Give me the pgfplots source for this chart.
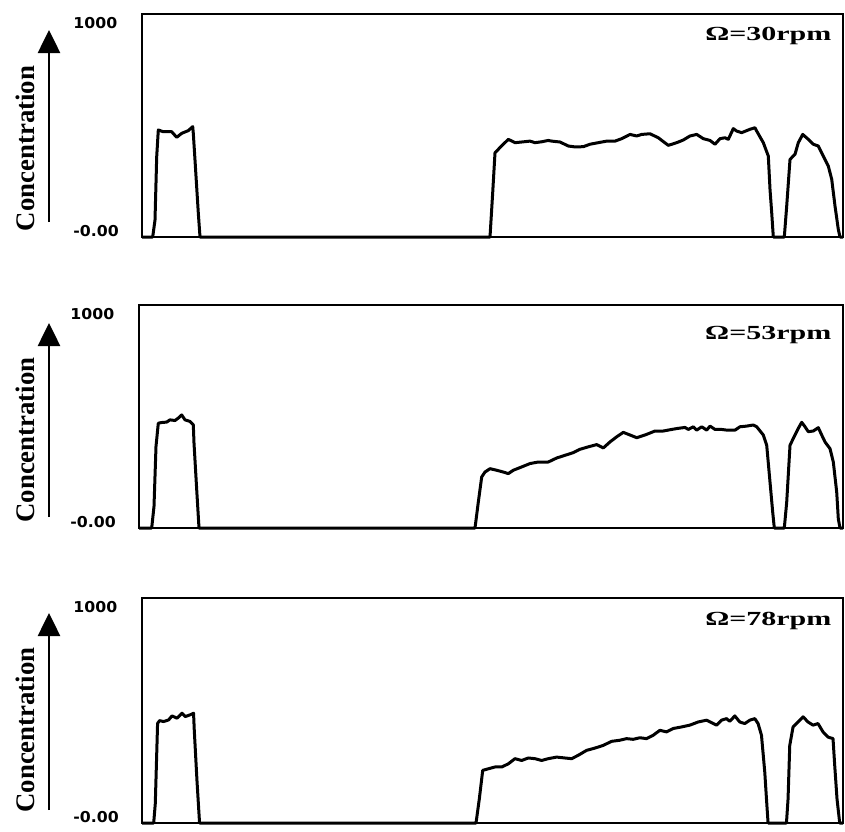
\documentclass[border=0pt]{standalone}
\usepackage{pgfplots}
\pgfplotsset{compat=1.18}
\usepackage{graphicx}
\usepackage{fontspec}
\setmainfont{Liberation Serif}
\newfontfamily\tickfont{DejaVu Sans}
\usetikzlibrary{arrows.meta}
\tikzset{omega/.style={anchor=east, inner sep=0pt, font=\bfseries\fontsize{10}{12}\selectfont}}
\pgfplotsset{
  panel/.style={
    scale only axis,
    anchor=north west,
    ymin=0, ymax=1000,
    xmin=0,
    xtick=\empty,
    ytick={27,960},
    yticklabels={\scalebox{1.05}[1]{-0.00},\scalebox{1.05}[1]{1000}},
    yticklabel style={font=\tickfont\bfseries\fontsize{7.5}{9}\selectfont, anchor=west, inner sep=0pt, xshift=-34.5pt},
    major tick length=0pt,
    axis line style={line width=1pt},
    every axis plot post/.append style={black, line width=1.5pt, mark=none, line join=round},
    clip=false,
  },
}
\begin{document}
\begin{tikzpicture}
\path[use as bounding box] (0,0) rectangle (422.5pt,-415.5pt);

% Panel 1
\begin{axis}[panel, at={(71pt,-7pt)}, width=350.5pt, height=111.5pt, xmax=701]
\addplot coordinates {(0,0) (10.7,0) (13,76) (14.7,360) (16.3,480) (21.3,472) (29.7,472) (34.7,447) (39.7,465) (46.3,477) (50.7,495) (51.3,465) (53,345) (56.3,108) (58,0)
(348,0) (350.7,199) (353,378) (358,401) (366.3,438) (373,423) (379.7,426) (388,430) (393,423) (399.7,427) (406.3,433) (409.7,430) (418,426) (426.3,408) (433,404) (441.3,405) (448,416) (456.3,423) (464.7,430) (473,430) (479.7,441) (488,460) (494.7,453) (499.7,460) (508,463) (516.3,445) (526.3,411) (534.7,423) (541.3,435) (548,453) (554.7,460) (561.3,441) (568,433) (573,416) (578,441) (583,445) (586.3,438) (591.3,486) (594.7,475) (599.7,468) (608,483) (613,490) (614.7,475) (621.3,423) (626.3,363) (628,214) (629.7,109) (631.3,0)
(642.3,0) (644.7,139) (648,348) (653,371) (656.3,423) (660.7,460) (666.3,438) (671.3,416) (676.3,408) (681.3,363) (686.3,318) (689.7,259) (693,139) (696.3,34) (698,0) (701,0)};
\node[omega] at (rel axis cs:0.984,0.90) {\scalebox{1.5}[1]{Ω=30rpm}};
\end{axis}

% Panel 2
\begin{axis}[panel, at={(69.5pt,-152.5pt)}, width=352pt, height=111.5pt, xmax=704]
\addplot coordinates {(0,0) (12.7,0) (15,97) (17,366) (19.3,470) (22.7,473) (27.7,475) (31,485) (36,482) (39.3,493) (42.7,507) (46,485) (51,478) (54.3,463) (55,381) (57.7,172) (60,0)
(336,0) (339.3,116) (342.7,229) (346,251) (351,266) (357.7,259) (364.3,251) (369.3,244) (374.3,259) (382.7,274) (391,289) (399.3,296) (409.3,296) (417.7,314) (426,326) (434.3,338) (441,353) (449.3,364) (457.7,374) (464.3,359) (471,386) (477.7,409) (484.3,429) (491,417) (497.7,405) (507.7,420) (516,435) (524.3,435) (532.7,442) (539.3,447) (546,451) (549.3,442) (554.3,454) (557.7,439) (562.7,454) (567.7,439) (571,457) (576,442) (582.7,442) (587.7,439) (596,439) (601,454) (607.7,457) (614.3,462) (617.7,454) (624.3,417) (627.7,371) (631,206) (633.7,71) (635.3,0)
(645.3,0) (647.7,116) (651,371) (654.3,402) (659.3,447) (662.7,474) (666,454) (669.3,432) (674.3,435) (679.3,450) (682.7,417) (686,386) (691,356) (694.3,296) (697.7,161) (699.3,41) (701,0) (704,0)};
\node[omega] at (rel axis cs:0.984,0.865) {\scalebox{1.5}[1]{Ω=53rpm}};
\end{axis}

% Panel 3
\begin{axis}[panel, at={(71pt,-299pt)}, width=350.5pt, height=112.5pt, xmax=701.6]
\addplot coordinates {(0,0) (11.7,0) (13.3,86) (15.6,443) (17.6,455) (21.6,451) (26.6,458) (30,476) (35,466) (40,488) (43.3,473) (48.3,481) (51.6,488) (52.3,414) (55,190) (57.6,0)
(334.3,0) (337.6,107) (341,234) (346.6,241) (353.3,249) (360,249) (366.6,263) (373.3,286) (380,278) (386.6,289) (393.3,286) (400,278) (406.6,286) (415,293) (423.3,289) (430,286) (436.6,301) (445,323) (453.3,333) (461.6,345) (470,363) (478.3,368) (485,375) (491.6,372) (498.3,379) (505,375) (511.6,390) (518.3,412) (525,405) (531.6,420) (540,427) (548.3,435) (556.6,449) (565,457) (575,435) (580,457) (585,464) (588.3,452) (593.3,476) (598.3,449) (603.3,442) (608.3,457) (613.3,464) (616.6,442) (620,390) (623.3,226) (625,107) (626.6,0)
(645,0) (646.6,107) (648.3,345) (651.6,427) (656.6,449) (661.6,472) (666.6,449) (671.6,435) (676.6,442) (681.6,405) (686.6,382) (691.6,375) (693.3,256) (695.6,107) (698.3,0) (701.6,0)};
\node[omega] at (rel axis cs:0.984,0.90) {\scalebox{1.5}[1]{Ω=78rpm}};
\end{axis}

% y-axis labels with arrows
\foreach \yc/\ya/\yb in {-74.25/-111/-15, -220/-258.5/-161.5, -365/-405/-306.5}{
  \node[rotate=90, inner sep=0pt, font=\bfseries\fontsize{13.4}{16}\selectfont] at (12.5pt,\yc pt) {Concentration};
  \draw[line width=1.3pt, -{Triangle[length=11.5pt,width=11pt]}] (24.5pt,\ya pt) -- (24.5pt,\yb pt);
}
\end{tikzpicture}
\end{document}
